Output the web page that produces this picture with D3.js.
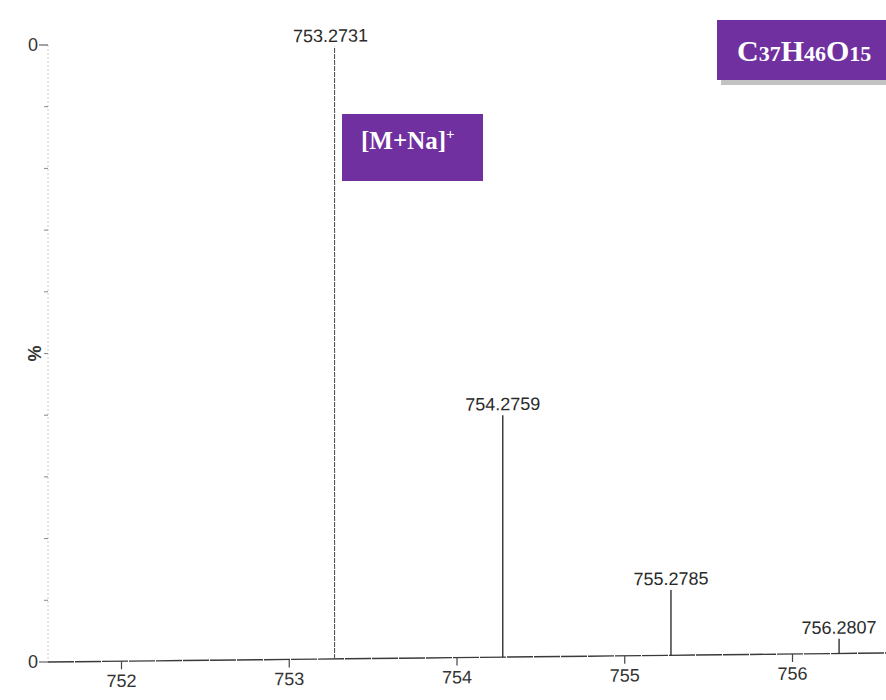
<!DOCTYPE html>
<html>
<head>
<meta charset="utf-8">
<script src="https://cdn.jsdelivr.net/npm/d3@7"></script>
<style>
  html, body { margin: 0; padding: 0; background: #fff; }
  svg { display: block; }
</style>
</head>
<body>
<svg id="chart" width="886" height="700"></svg>
<script>
// Mass spectrum of C37H46O15, [M+Na]+ isotope cluster
const peakMz = [753.2731, 754.2759, 755.2785, 756.2807];
const peakIntensity = [99.2, 39.2, 10.6, 2.4];
const peakLabels = ["753.2731", "754.2759", "755.2785", "756.2807"];
const xTicks = [752, 753, 754, 755, 756];
const yTicks = [0, 10, 20, 30, 40, 50, 60, 70, 80, 90, 100];
const yTickLabels = { 0: "0", 50: "%", 100: "0" };

const svg = d3.select("#chart");
const W = 886, H = 700;
const axisX = 48;
const sans = "Liberation Sans, Arial, sans-serif";
const serif = "Liberation Serif, Times New Roman, serif";

const x = d3.scaleLinear().domain([752, 756]).range([121, 792]);
const y = d3.scaleLinear().domain([0, 100]).range([662, 45]);

// page frame
svg.append("rect").attr("width", W).attr("height", H).attr("fill", "#fff");
const defs = svg.append("defs");
const blur = defs.append("filter").attr("id", "soft")
  .attr("x", "-5%").attr("y", "-50%").attr("width", "110%").attr("height", "200%");
blur.append("feGaussianBlur").attr("stdDeviation", 0.8);
svg.append("line").attr("x1", 10).attr("x2", W).attr("y1", 13.5).attr("y2", 13.5)
  .attr("stroke", "#bdbdbd").attr("stroke-width", 3).attr("filter", "url(#soft)");
svg.append("line").attr("x1", 11).attr("x2", 11).attr("y1", 13).attr("y2", H)
  .attr("stroke", "#d0d0d0").attr("stroke-width", 2.5).attr("filter", "url(#soft)");

defs.append("clipPath").attr("id", "plotClip")
  .append("rect").attr("x", 13).attr("y", 16).attr("width", W - 13).attr("height", 687 - 16);

const plot = svg.append("g").attr("clip-path", "url(#plotClip)");

// y axis (vertical, faint dotted)
const yAxis = plot.append("g");
yAxis.append("line").attr("x1", axisX).attr("x2", axisX)
  .attr("y1", y(100)).attr("y2", y(0))
  .attr("stroke", "#dcc4c4").attr("stroke-width", 1).attr("stroke-dasharray", "2,2");
yAxis.selectAll("line.tick").data(yTicks).join("line").attr("class", "tick")
  .attr("x1", d => (d === 0 || d === 100) ? 39 : 44).attr("x2", axisX)
  .attr("y1", d => y(d)).attr("y2", d => y(d))
  .attr("stroke", d => (d === 0 || d === 100) ? "#444" : "#888").attr("stroke-width", 1);
yAxis.selectAll("text").data(yTicks.filter(d => yTickLabels[d] !== undefined)).join("text")
  .attr("font-family", sans)
  .attr("font-size", 18).attr("fill", "#333")
  .attr("font-weight", d => d === 50 ? "bold" : null)
  .attr("text-anchor", "middle")
  .attr("transform", d => d === 50
    ? `translate(34,${y(d)}) rotate(90)`
    : `translate(33,${y(d) + 6})`)
  .attr("dy", d => d === 50 ? "0.35em" : 0)
  .text(d => yTickLabels[d]);

// slightly tilted x axis and peaks
const tilt = plot.append("g")
  .attr("transform", `translate(${axisX},0) skewY(-0.615) translate(${-axisX},0)`);

tilt.append("line").attr("x1", axisX).attr("x2", W + 20)
  .attr("y1", y(0)).attr("y2", y(0))
  .attr("stroke", "#3a3a3a").attr("stroke-width", 1.4).attr("stroke-dasharray", "26,1");

const xAxis = d3.axisBottom(x).tickValues(xTicks).tickFormat(d3.format("d"))
  .tickSize(8).tickPadding(5);
const xg = tilt.append("g").attr("transform", `translate(0,${y(0)})`).call(xAxis);
xg.select(".domain").remove();
xg.selectAll(".tick line").attr("stroke", "#444").attr("stroke-width", 1.2);
xg.selectAll(".tick text")
  .attr("font-family", sans)
  .attr("font-size", 18).attr("fill", "#333");

const peaks = peakMz.map((m, i) => ({ m, v: peakIntensity[i], label: peakLabels[i], i }));
tilt.selectAll("line.peak").data(peaks).join("line").attr("class", "peak")
  .attr("x1", d => x(d.m)).attr("x2", d => x(d.m))
  .attr("y1", y(0)).attr("y2", d => y(d.v))
  .attr("stroke", d => d.i === 0 ? "#555" : "#222")
  .attr("stroke-width", d => d.i === 0 ? 1.1 : 1.3)
  .attr("stroke-dasharray", d => d.i === 0 ? "5,1" : null);
tilt.selectAll("text.plabel").data(peaks).join("text").attr("class", "plabel")
  .attr("x", d => x(d.m) - (d.i === 0 ? 4 : 0)).attr("y", d => y(d.v) - 5)
  .attr("text-anchor", "middle")
  .attr("font-family", sans)
  .attr("font-size", 18).attr("fill", "#2a2a2a")
  .text(d => d.label);

// formula badge
svg.append("rect").attr("x", 721).attr("y", 80).attr("width", 170).attr("height", 5)
  .attr("fill", "#c2c2c2");
svg.append("rect").attr("x", 717).attr("y", 20).attr("width", 175).attr("height", 60)
  .attr("fill", "#7030a0");
const formula = svg.append("text").attr("x", 737).attr("y", 61)
  .attr("font-family", serif)
  .attr("font-weight", "bold").attr("fill", "#fff");
[["C", 30], ["37", 22], ["H", 30], ["46", 22], ["O", 30], ["15", 22]].forEach(([t, s]) => {
  formula.append("tspan").attr("font-size", s).text(t);
});

// adduct badge
svg.append("rect").attr("x", 342).attr("y", 114).attr("width", 141).attr("height", 67)
  .attr("fill", "#7030a0");
const adduct = svg.append("text").attr("x", 361).attr("y", 149)
  .attr("font-family", serif)
  .attr("font-weight", "bold").attr("fill", "#fff");
adduct.append("tspan").attr("font-size", 25).text("[M+Na]");
adduct.append("tspan").attr("font-size", 15).attr("dy", -10).text("+");
</script>
</body>
</html>
